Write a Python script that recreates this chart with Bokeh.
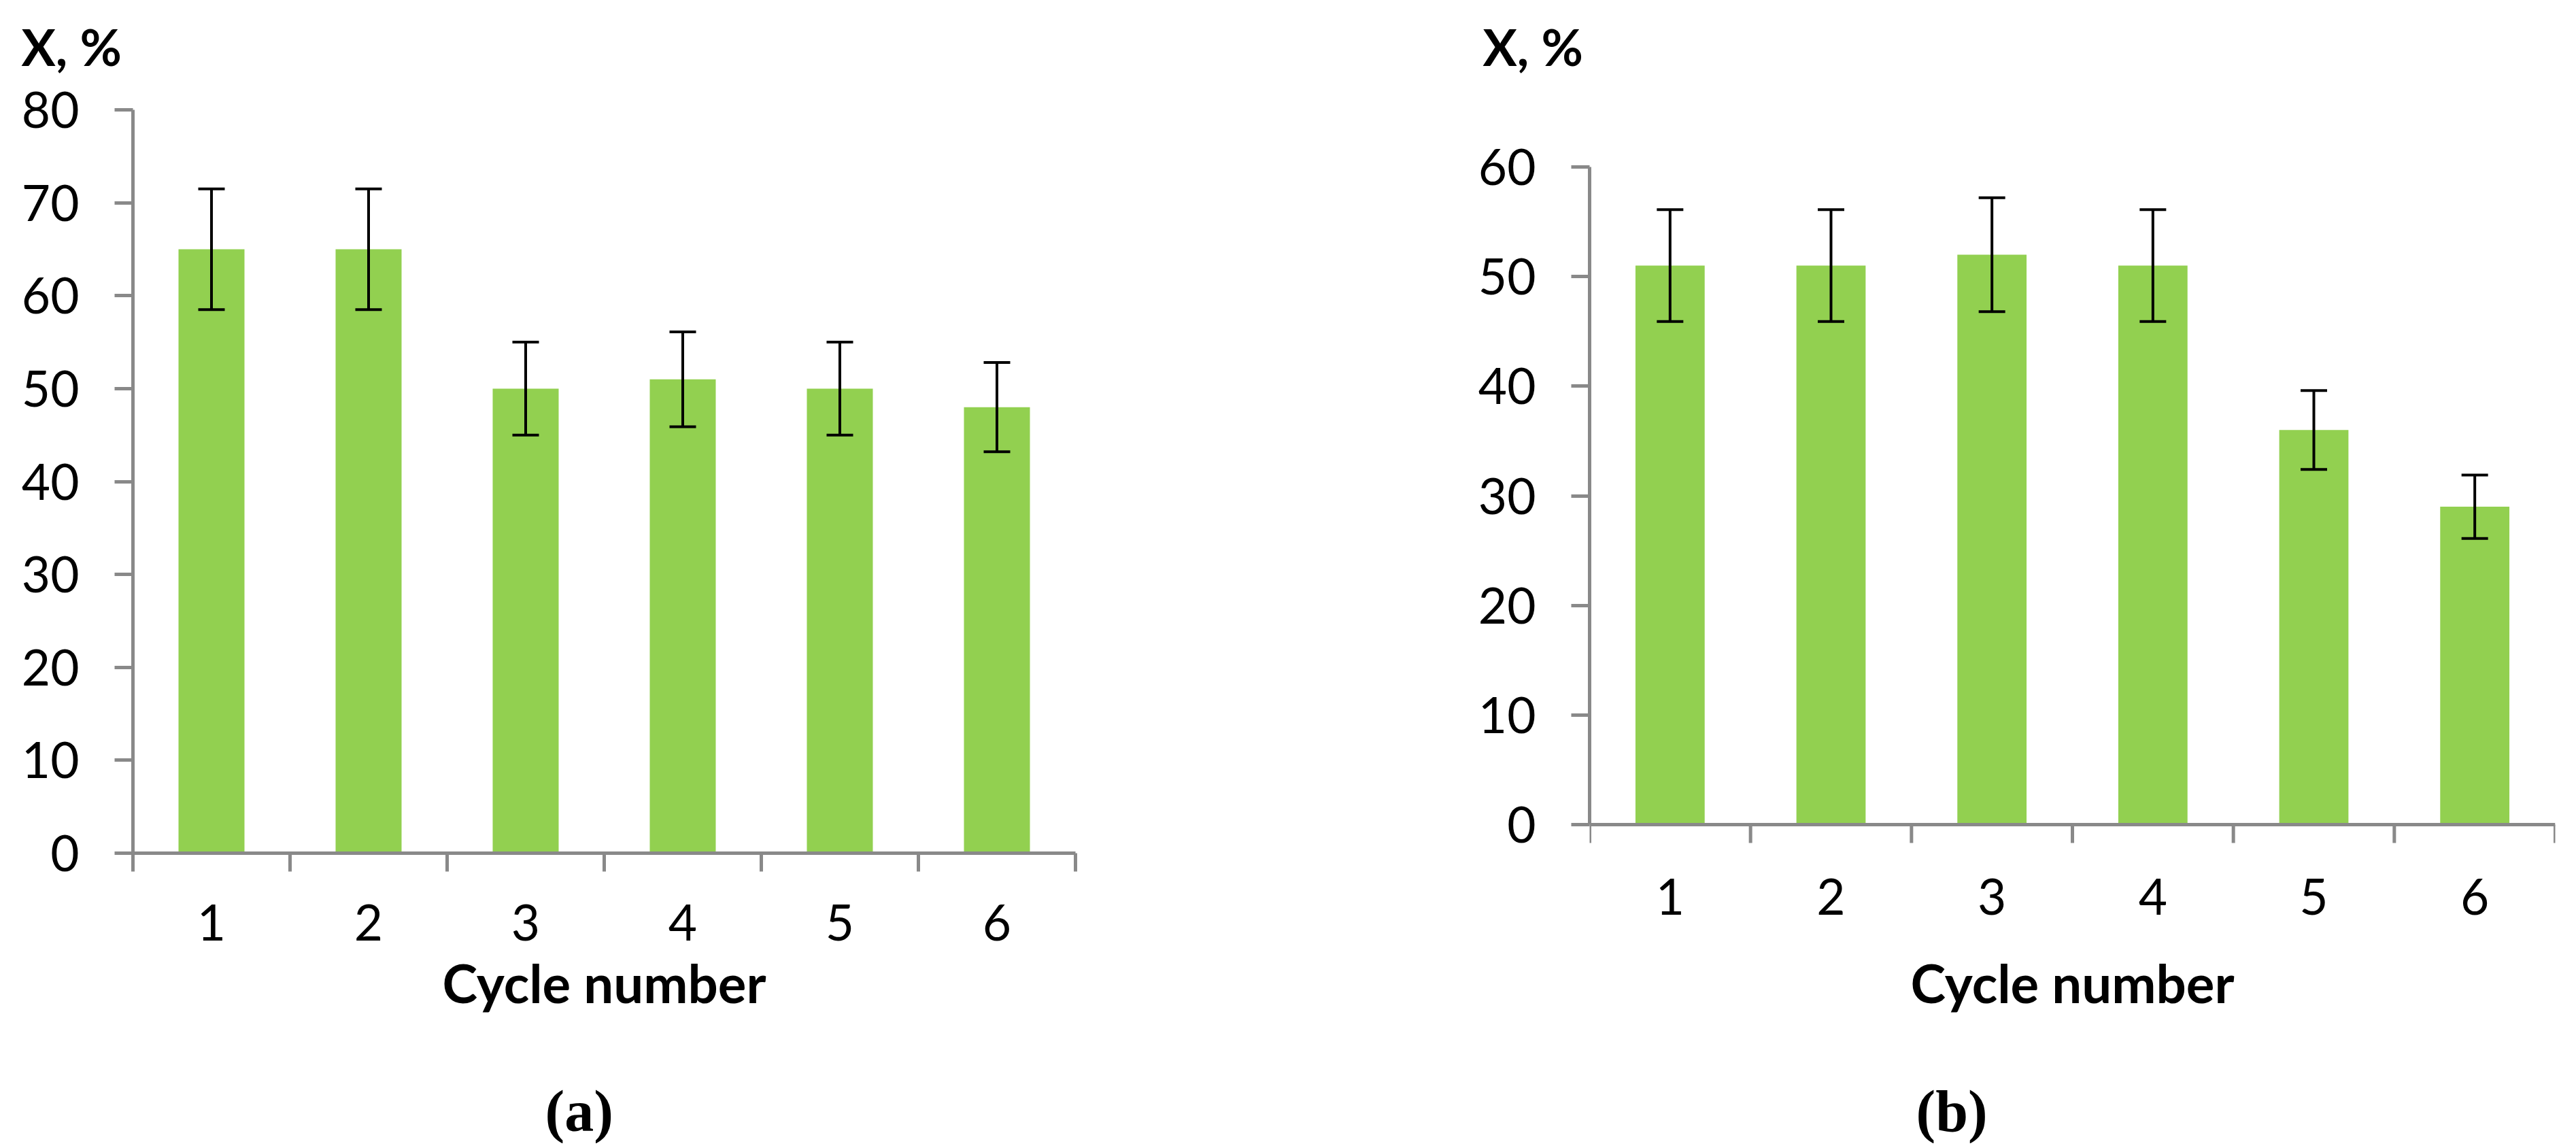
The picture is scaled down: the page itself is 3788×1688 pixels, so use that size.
from bokeh.plotting import figure
from bokeh.models import FixedTicker, Whisker, TeeHead, ColumnDataSource, Range1d, Title, Span
from bokeh.layouts import row
from bokeh.embed import file_html
from bokeh.resources import INLINE

# ---------------- data ----------------
cycles = [1, 2, 3, 4, 5, 6]
conv_a = [65, 65, 50, 51, 50, 48]
err_a = [6.5, 6.5, 5.0, 5.1, 5.0, 4.8]
conv_b = [51, 51, 52, 51, 36, 29]
err_b = [5.1, 5.1, 5.2, 5.1, 3.6, 2.9]
yticks_a = [0, 10, 20, 30, 40, 50, 60, 70, 80]
yticks_b = [0, 10, 20, 30, 40, 50, 60]
y_title = "X, %"
x_title = "Cycle number"
captions = ["(a)", "(b)"]

BAR = "#92D050"
AXIS = "#898989"
FONT = "Lato"
TICK = 27          # tick length, px

# both plot frames share the same vertical extent (page px)
FRAME_TOP, FRAME_BOTTOM = 161, 1254


def spacer_title(gap):
    # white-on-white tiny title used only to reserve vertical space in a side panel
    return Title(text=".", text_font_size="1px", standoff=gap, text_color="white")


def panel(values, errors, yticks, caption, frame_w, bl, br, bar_w,
          zero_px, top_px, xtick_standoff, xl_standoff, ytitle_offset,
          cap_offset, cap_gap):
    # vertical range so that 0 sits at zero_px and the top tick at top_px
    ppu = (zero_px - top_px) / (yticks[-1] - yticks[0])
    y0 = yticks[0] - (FRAME_BOTTOM - zero_px) / ppu
    y1 = yticks[-1] + (top_px - FRAME_TOP) / ppu
    raised = zero_px != FRAME_BOTTOM

    p = figure(frame_width=frame_w, frame_height=FRAME_BOTTOM - FRAME_TOP,
               output_backend="svg", toolbar_location=None, title=None,
               x_range=Range1d(cycles[0] - 0.5, cycles[-1] + 0.5),
               y_range=Range1d(y0, y1),
               min_border_left=bl, min_border_right=br,
               min_border_top=FRAME_TOP, min_border_bottom=10)
    p.outline_line_color = None
    p.xgrid.visible = False
    p.ygrid.visible = False
    p.background_fill_color = "white"
    p.border_fill_color = "white"

    src = ColumnDataSource(dict(
        x=cycles, top=values,
        upper=[v + e for v, e in zip(values, errors)],
        lower=[v - e for v, e in zip(values, errors)]))
    p.vbar(x="x", top="top", bottom=0, width=bar_w, source=src,
           fill_color=BAR, line_color=None)

    bounds = [c - 0.5 for c in cycles] + [cycles[-1] + 0.5]
    xa = p.xaxis[0]
    xa.ticker = FixedTicker(ticks=cycles, minor_ticks=bounds)
    xa.major_tick_out = 0
    xa.major_tick_in = 0
    xa.minor_tick_in = 0
    xa.minor_tick_line_color = AXIS
    xa.minor_tick_line_width = 5
    if raised:
        # axis line and category ticks drawn at y = 0 inside the frame
        xa.axis_line_color = None
        xa.minor_tick_out = 0
        p.add_layout(Span(location=0, dimension="width", line_color=AXIS, line_width=5))
        p.segment(x0=bounds, y0=[0] * len(bounds), x1=bounds,
                  y1=[-TICK / ppu] * len(bounds), line_color=AXIS, line_width=5)
    else:
        xa.axis_line_color = AXIS
        xa.axis_line_width = 5
        xa.minor_tick_out = TICK
    xa.major_label_text_font = FONT
    xa.major_label_text_font_size = "73px"
    xa.major_label_text_color = "black"
    xa.major_label_standoff = xtick_standoff
    xa.axis_label = x_title
    xa.axis_label_text_font = FONT
    xa.axis_label_text_font_style = "bold"
    xa.axis_label_text_font_size = "78px"
    xa.axis_label_text_color = "black"
    xa.axis_label_standoff = xl_standoff

    ya = p.yaxis[0]
    ya.bounds = (yticks[0], yticks[-1])
    ya.ticker = FixedTicker(ticks=yticks, minor_ticks=[])
    ya.axis_line_color = AXIS
    ya.axis_line_width = 5
    ya.major_tick_out = TICK
    ya.major_tick_in = 0
    ya.major_tick_line_color = AXIS
    ya.major_tick_line_width = 5
    ya.minor_tick_out = 0
    ya.minor_tick_in = 0
    ya.major_label_text_font = FONT
    ya.major_label_text_font_size = "73px"
    ya.major_label_text_color = "black"
    ya.major_label_standoff = 52

    w = Whisker(source=src, base="x", upper="upper", lower="lower",
                line_color="black", line_width=4, level="annotation",
                upper_head=TeeHead(size=39, line_color="black", line_width=4),
                lower_head=TeeHead(size=39, line_color="black", line_width=4))
    p.add_layout(w)

    # y title above the axis (spacer between it and the frame)
    p.add_layout(spacer_title(41), "above")
    p.add_layout(Title(text=y_title, align="left", offset=ytitle_offset, standoff=10,
                       text_font=FONT, text_font_style="bold",
                       text_font_size="75px", text_color="black"), "above")

    # sub-figure caption (spacer between it and the x axis)
    p.add_layout(spacer_title(cap_gap), "below")
    p.add_layout(Title(text=caption, align="left", offset=cap_offset, standoff=0,
                       text_font="Liberation Serif", text_font_style="bold",
                       text_font_size="86px", text_color="black"), "below")
    return p


pa = panel(conv_a, err_a, yticks_a, captions[0], frame_w=1386, bl=195, br=369,
           bar_w=0.42, zero_px=1254, top_px=161, xtick_standoff=48, xl_standoff=12,
           ytitle_offset=-164, cap_offset=606, cap_gap=86)
pb = panel(conv_b, err_b, yticks_b, captions[1], frame_w=1420, bl=387, br=15,
           bar_w=0.43, zero_px=1212, top_px=245, xtick_standoff=37, xl_standoff=50,
           ytitle_offset=-157, cap_offset=480, cap_gap=86)

layout = row(pa, pb)
open("out.html", "w").write(file_html(layout, INLINE))
